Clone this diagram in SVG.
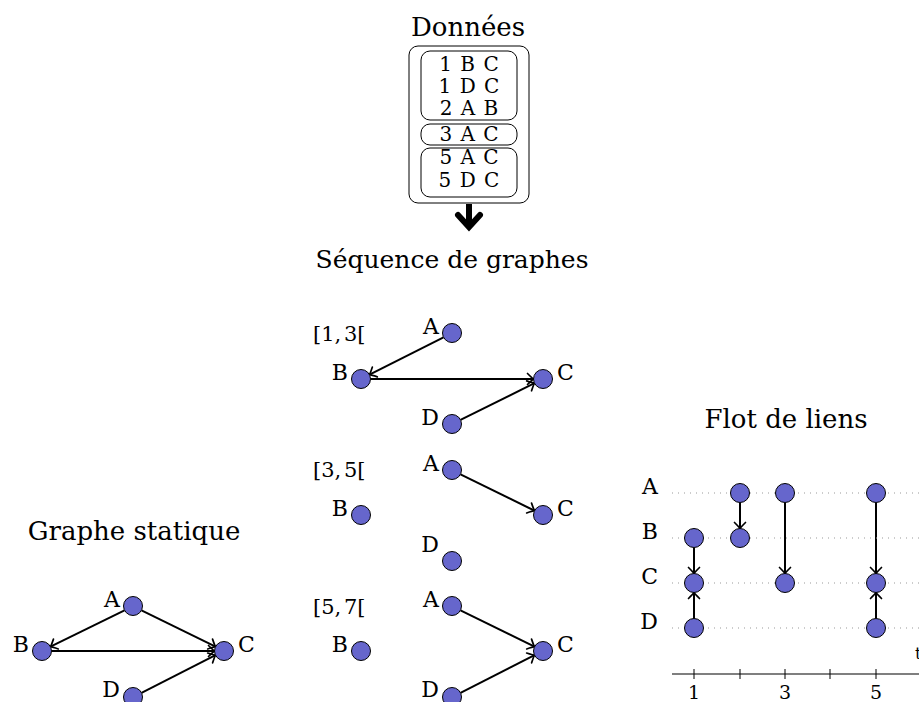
<svg xmlns="http://www.w3.org/2000/svg" width="919" height="702" viewBox="0 0 919 702">
<style>
text{font-family:"DejaVu Serif","Liberation Serif",serif;fill:#000}
.t{font-size:26px}
.l{font-size:22px}
.iv{font-size:21px;word-spacing:-4px}
.d{font-size:20px;text-anchor:middle;word-spacing:2px}
.n{fill:#6666cc;stroke:#000;stroke-width:1}
.e{stroke:#000;stroke-width:2;fill:none;marker-end:url(#ah)}
.dot{stroke:#999;stroke-width:1.2;stroke-dasharray:1 5}
.box{fill:none;stroke:#000;stroke-width:1}
.r{text-anchor:end}
.m{text-anchor:middle}
.ax{font-size:19px;text-anchor:middle}
</style>
<defs>
<marker id="ah" markerUnits="userSpaceOnUse" markerWidth="16" markerHeight="16" viewBox="-8 -8 16 16" refX="0" refY="0" orient="auto">
<path d="M-6,-5.5 Q-1.5,-1 0,0 Q-1.5,1 -6,5.5" fill="none" stroke="#000" stroke-width="1.7" stroke-linecap="round"/>
</marker>
<marker id="ax" markerUnits="userSpaceOnUse" markerWidth="14" markerHeight="14" viewBox="-7 -7 14 14" refX="0" refY="0" orient="auto">
<path d="M-5,-4 Q-1.5,-1 0,0 Q-1.5,1 -5,4" fill="none" stroke="#000" stroke-width="1.2"/>
</marker>
</defs>

<g id="donnees">
<text class="t m" x="468" y="36">Données</text>
<rect class="box" x="409" y="46" width="120" height="157" rx="9"/>
<rect class="box" x="421" y="51" width="96" height="69" rx="9"/>
<rect class="box" x="421" y="124" width="96" height="21" rx="9"/>
<rect class="box" x="421" y="148" width="96" height="49" rx="9"/>
<text class="d" x="469" y="71">1 B C</text>
<text class="d" x="469" y="93">1 D C</text>
<text class="d" x="469" y="115">2 A B</text>
<text class="d" x="469" y="141">3 A C</text>
<text class="d" x="469" y="164">5 A C</text>
<text class="d" x="469" y="187">5 D C</text>
</g>

<g id="big-arrow">
<path d="M469,204 V226" stroke="#000" stroke-width="6"/>
<path d="M458,215 L469,227 L480,215" fill="none" stroke="#000" stroke-width="6" stroke-linejoin="miter" stroke-linecap="round"/>
</g>

<text class="m" style="font-size:25px" x="452" y="268">Séquence de graphes</text>

<g id="connectors">
<line class="e" x1="443.5" y1="337.3" x2="369.5" y2="374.7"/>
<line class="e" x1="370.5" y1="379" x2="533.5" y2="379"/>
<line class="e" x1="460.5" y1="419.8" x2="534.5" y2="383.2"/>
<line class="e" x1="460.5" y1="474.3" x2="534.5" y2="510.7"/>
<line class="e" x1="460.5" y1="610.3" x2="534.5" y2="646.7"/>
<line class="e" x1="460.5" y1="692.8" x2="534.5" y2="655.2"/>
<line class="e" x1="124.5" y1="610.3" x2="50.5" y2="646.7"/>
<line class="e" x1="141.5" y1="610.3" x2="215.5" y2="646.7"/>
<line class="e" x1="51.5" y1="651" x2="214.5" y2="651"/>
<line class="e" x1="141.5" y1="692.8" x2="215.5" y2="655.2"/>
<line class="e" x1="694" y1="547.5" x2="694" y2="573.5"/>
<line class="e" x1="694" y1="618.5" x2="694" y2="592.5"/>
<line class="e" x1="740" y1="502.5" x2="740" y2="528.5"/>
<line class="e" x1="785" y1="502.5" x2="785" y2="573.5"/>
<line class="e" x1="876" y1="502.5" x2="876" y2="573.5"/>
<line class="e" x1="876" y1="618.5" x2="876" y2="592.5"/>
</g>

<g id="seq1">
<text class="iv" x="313" y="341">[1, 3[</text>
<g id="s1A"><circle class="n" cx="452" cy="333" r="9.5"/><text class="l r" x="439" y="334">A</text></g>
<g id="s1B"><circle class="n" cx="361" cy="379" r="9.5"/><text class="l r" x="348" y="380">B</text></g>
<g id="s1C"><circle class="n" cx="543" cy="379" r="9.5"/><text class="l" x="557" y="380">C</text></g>
<g id="s1D"><circle class="n" cx="452" cy="424" r="9.5"/><text class="l r" x="439" y="425">D</text></g>
</g>

<g id="seq2">
<text class="iv" x="313" y="477">[3, 5[</text>
<g id="s2A"><circle class="n" cx="452" cy="470" r="9.5"/><text class="l r" x="439" y="471">A</text></g>
<g id="s2B"><circle class="n" cx="361" cy="515" r="9.5"/><text class="l r" x="348" y="516">B</text></g>
<g id="s2C"><circle class="n" cx="543" cy="515" r="9.5"/><text class="l" x="557" y="516">C</text></g>
<g id="s2D"><circle class="n" cx="452" cy="561" r="9.5"/><text class="l r" x="439" y="552">D</text></g>
</g>

<g id="seq3">
<text class="iv" x="313" y="614">[5, 7[</text>
<g id="s3A"><circle class="n" cx="452" cy="606" r="9.5"/><text class="l r" x="439" y="607">A</text></g>
<g id="s3B"><circle class="n" cx="361" cy="651" r="9.5"/><text class="l r" x="348" y="652">B</text></g>
<g id="s3C"><circle class="n" cx="543" cy="651" r="9.5"/><text class="l" x="557" y="652">C</text></g>
<g id="s3D"><circle class="n" cx="452" cy="697" r="9.5"/><text class="l r" x="439" y="697">D</text></g>
</g>

<g id="static">
<text class="t m" x="134" y="540">Graphe statique</text>
<g id="gA"><circle class="n" cx="133" cy="606" r="9.5"/><text class="l r" x="120" y="607">A</text></g>
<g id="gB"><circle class="n" cx="42" cy="651" r="9.5"/><text class="l r" x="29" y="652">B</text></g>
<g id="gC"><circle class="n" cx="224" cy="651" r="9.5"/><text class="l" x="238" y="652">C</text></g>
<g id="gD"><circle class="n" cx="133" cy="697" r="9.5"/><text class="l r" x="120" y="697">D</text></g>
</g>

<g id="linkstream">
<text class="t m" x="786" y="428">Flot de liens</text>
<text class="l r" x="658" y="494">A</text>
<text class="l r" x="658" y="539">B</text>
<text class="l r" x="658" y="584">C</text>
<text class="l r" x="658" y="629">D</text>
<line class="dot" x1="672" y1="493" x2="919" y2="493"/>
<line class="dot" x1="672" y1="538" x2="919" y2="538"/>
<line class="dot" x1="672" y1="583" x2="919" y2="583"/>
<line class="dot" x1="672" y1="628" x2="919" y2="628"/>
<line x1="672" y1="674" x2="925" y2="674" stroke="#000" stroke-width="1.2" marker-end="url(#ax)"/>
<g stroke="#000" stroke-width="1">
<line x1="694" y1="669" x2="694" y2="679"/>
<line x1="740" y1="669" x2="740" y2="679"/>
<line x1="785" y1="669" x2="785" y2="679"/>
<line x1="830" y1="669" x2="830" y2="679"/>
<line x1="876" y1="669" x2="876" y2="679"/>
</g>
<text class="ax" x="694" y="699">1</text>
<text class="ax" x="785" y="699">3</text>
<text class="ax" x="876" y="699">5</text>
<text style="font-size:16px" x="915" y="659">t</text>
<circle class="n" cx="694" cy="538" r="9.5"/>
<circle class="n" cx="694" cy="583" r="9.5"/>
<circle class="n" cx="694" cy="628" r="9.5"/>
<circle class="n" cx="740" cy="493" r="9.5"/>
<circle class="n" cx="740" cy="538" r="9.5"/>
<circle class="n" cx="785" cy="493" r="9.5"/>
<circle class="n" cx="785" cy="583" r="9.5"/>
<circle class="n" cx="876" cy="493" r="9.5"/>
<circle class="n" cx="876" cy="583" r="9.5"/>
<circle class="n" cx="876" cy="628" r="9.5"/>
</g>
</svg>
